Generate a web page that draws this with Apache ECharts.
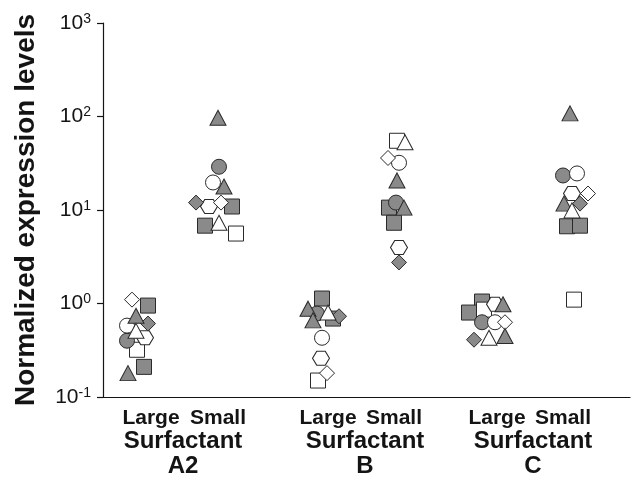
<!DOCTYPE html>
<html><head><meta charset="utf-8">
<script src="https://cdn.jsdelivr.net/npm/echarts@6/dist/echarts.min.js"></script>
<style>html,body{margin:0;padding:0;background:#fff}#c{width:638px;height:485px}</style>
</head><body><div id="c"></div>
<script>
// ---- data ----
const categories = ['Large', 'Small', 'Large', 'Small', 'Large', 'Small'];
const groups = ['Surfactant\nA2', 'Surfactant\nB', 'Surfactant\nC'];
const yTicks = [0.1, 1, 10, 100, 1000];
const yName = 'Normalized expression levels';
// each point: [category index, horizontal jitter, expression level]
const grayTriangle = [[0,-15,0.74],[0,-23,0.18],[1,0,97],[1,6,17.8],[2,-20,0.88],[2,-15,0.66],[3,3,20.7],[3,10,10.6],[4,6,0.98],[4,8,0.45],[5,7,108],[5,1,11.7]];
const grayCircle = [[0,-24,0.40],[1,1,29],[2,-11,0.78],[3,2,12],[4,-15,0.63],[5,0,23.4]];
const graySquare = [[0,-3,0.95],[0,-7,0.21],[1,14,10.9],[1,-13,6.8],[2,-6,1.13],[2,5,0.69],[3,-5,10.6],[3,0,7.3],[4,-15,1.05],[4,-28,0.80],[5,4,6.7],[5,17,6.8]];
const grayDiamond = [[0,-3,0.61],[1,-22,12.0],[2,11,0.73],[3,5,2.75],[4,-23,0.41],[5,17,11.7]];
const whiteCircle = [[0,-24,0.58],[1,-5,19.7],[2,-6,0.43],[3,5,32],[4,-2,0.63],[5,14,24.6]];
const whiteDiamond = [[0,-19,1.10],[1,3,12.0],[2,-1,0.18],[3,-6,36],[4,8,0.63],[5,25,15]];
const whiteTriangle = [[0,-15,0.51],[1,1,7.3],[2,0,0.80],[3,11,53],[4,-8,0.43],[5,9,9.9]];
const whiteSquare = [[0,-14,0.32],[1,18,5.6],[2,-10,0.15],[3,3,55],[4,-13,0.86],[5,11,1.10]];
const whiteHexagon = [[0,-6,0.43],[1,-9,10.9],[2,-7,0.26],[3,5,3.97],[4,-2,0.98],[5,9,15]];

// ---- layout / style ----
const catX = [48, 115, 225, 291, 394, 460];
const groupX = [80, 262, 430];
const FONT = '"Liberation Sans", Arial, Helvetica, sans-serif';
const GRAY = '#8a8a8a', WHITE = '#ffffff', EDGE = '#2a2a2a', INK = '#141414';
const HEX = 'path://M1,0 L3,0 L4,1.732 L3,3.464 L1,3.464 L0,1.732 Z';

function pts(arr) { return arr.map(p => [catX[p[0]] + p[1], p[2]]); }
function mk(name, arr, symbol, size, fill) {
  return {
    name, type: 'scatter', data: pts(arr), symbol, symbolSize: size,
    itemStyle: { color: fill, borderColor: EDGE, borderWidth: 1, opacity: 1 },
    emphasis: { disabled: true }, silent: true
  };
}

const chart = echarts.init(document.getElementById('c'), null, { renderer: 'canvas' });
chart.setOption({
  animation: false,
  backgroundColor: '#fff',
  textStyle: { fontFamily: FONT },
  grid: { left: 103, right: 8, top: 23, bottom: 88, containLabel: false, outerBoundsMode: 'none' },
  xAxis: [{
    type: 'value', min: 0, max: 527,
    axisLine: { show: true, onZero: false, lineStyle: { color: INK, width: 1.2 } },
    axisTick: { show: false },
    splitLine: { show: false },
    axisLabel: {
      customValues: catX,
      formatter: v => categories[catX.indexOf(Math.round(v))] || '',
      fontFamily: FONT, fontSize: 21, fontWeight: 'bold', color: INK, margin: 11
    }
  }, {
    type: 'value', min: 0, max: 527, position: 'bottom',
    axisLine: { show: false }, axisTick: { show: false }, splitLine: { show: false },
    axisLabel: {
      customValues: groupX,
      formatter: v => groups[groupX.indexOf(Math.round(v))] || '',
      fontFamily: FONT, fontSize: 24, fontWeight: 'bold', color: INK, lineHeight: 25, margin: 32
    }
  }],
  yAxis: {
    type: 'log', logBase: 10, min: yTicks[0], max: yTicks[yTicks.length - 1],
    name: yName, nameLocation: 'middle', nameRotate: 90, nameGap: 63,
    nameTextStyle: { fontFamily: FONT, fontSize: 28, fontWeight: 'bold', color: INK },
    axisLine: { show: true, lineStyle: { color: INK, width: 1.2 } },
    axisTick: { show: true, length: 6, lineStyle: { color: INK, width: 1.2 } },
    splitLine: { show: false }, minorTick: { show: false },
    axisLabel: {
      margin: 12,
      formatter: v => '{b|10}{s|' + Math.round(Math.log10(v)) + '}',
      rich: {
        b: { fontFamily: FONT, fontSize: 21, color: INK, lineHeight: 22 },
        s: { fontFamily: FONT, fontSize: 14, color: INK, lineHeight: 14, verticalAlign: 'top' }
      }
    }
  },
  series: [
    mk('graySquare', graySquare, 'rect', 15, GRAY),
    mk('whiteSquare', whiteSquare, 'rect', 15, WHITE),
    mk('grayCircle', grayCircle, 'circle', 15, GRAY),
    mk('whiteCircle', whiteCircle, 'circle', 15, WHITE),
    mk('whiteHexagon', whiteHexagon, HEX, [17, 14], WHITE),
    mk('grayDiamond', grayDiamond, 'diamond', 15, GRAY),
    mk('whiteDiamond', whiteDiamond, 'diamond', 15, WHITE),
    mk('grayTriangle', grayTriangle, 'triangle', [16, 15], GRAY),
    mk('whiteTriangle', whiteTriangle, 'triangle', [16, 15], WHITE)
  ]
});
</script></body></html>
